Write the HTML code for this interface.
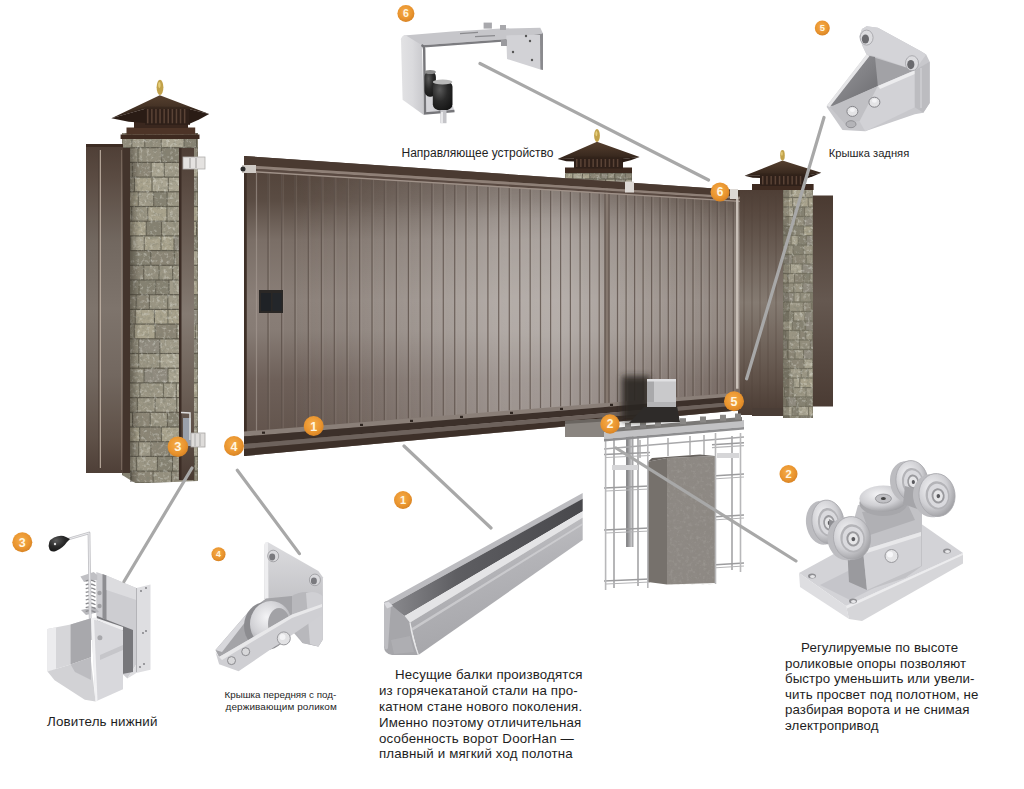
<!DOCTYPE html>
<html><head><meta charset="utf-8"><style>
html,body{margin:0;padding:0;background:#fff;}
#c{position:relative;width:1024px;height:789px;overflow:hidden;background:#fff;font-family:"Liberation Sans",sans-serif;}
#c svg{position:absolute;left:0;top:0;}
.t{position:absolute;white-space:nowrap;color:#1e1e1e;line-height:1.2;}
.p{position:absolute;white-space:nowrap;color:#1e1e1e;font-size:13.3px;line-height:15.8px;}
</style></head><body><div id="c">
<svg width="1024" height="789" viewBox="0 0 1024 789"><defs>
<linearGradient id="gv" x1="0" y1="160" x2="0" y2="455" gradientUnits="userSpaceOnUse">
 <stop offset="0" stop-color="#4e3f36"/>
 <stop offset="0.05" stop-color="#54453c"/>
 <stop offset="0.136" stop-color="#5a4c43"/>
 <stop offset="0.27" stop-color="#7a6e66"/>
 <stop offset="0.475" stop-color="#8a7f78"/>
 <stop offset="0.576" stop-color="#877c75"/>
 <stop offset="0.746" stop-color="#6e6059"/>
 <stop offset="1" stop-color="#5e5048"/>
</linearGradient>
<linearGradient id="gh" x1="244" y1="0" x2="740" y2="0" gradientUnits="userSpaceOnUse">
 <stop offset="0" stop-color="#ffffff" stop-opacity="0"/>
 <stop offset="0.093" stop-color="#ffffff" stop-opacity="0"/>
 <stop offset="0.214" stop-color="#ffffff" stop-opacity="0.08"/>
 <stop offset="0.345" stop-color="#ffffff" stop-opacity="0.2"/>
 <stop offset="0.516" stop-color="#ffffff" stop-opacity="0.35"/>
 <stop offset="0.637" stop-color="#ffffff" stop-opacity="0.38"/>
 <stop offset="0.819" stop-color="#ffffff" stop-opacity="0.22"/>
 <stop offset="0.919" stop-color="#ffffff" stop-opacity="0.13"/>
 <stop offset="1" stop-color="#ffffff" stop-opacity="0.08"/>
</linearGradient>
<linearGradient id="vmg" x1="0" y1="160" x2="0" y2="455" gradientUnits="userSpaceOnUse">
 <stop offset="0" stop-color="#fff" stop-opacity="0.55"/>
 <stop offset="0.2" stop-color="#fff" stop-opacity="1"/>
 <stop offset="1" stop-color="#fff" stop-opacity="1"/>
</linearGradient>
<mask id="vm" maskUnits="userSpaceOnUse" x="0" y="0" width="1024" height="789"><rect x="0" y="0" width="1024" height="789" fill="url(#vmg)"/></mask>
<linearGradient id="shl" x1="0" y1="0" x2="1" y2="0">
 <stop offset="0" stop-color="#2a241c" stop-opacity="0.45"/>
 <stop offset="1" stop-color="#2a241c" stop-opacity="0"/>
</linearGradient>
<linearGradient id="fv2" x1="0" y1="0" x2="0" y2="1">
 <stop offset="0" stop-color="#4e3e35"/>
 <stop offset="0.1" stop-color="#5a4b42"/>
 <stop offset="0.3" stop-color="#726860"/>
 <stop offset="0.5" stop-color="#7e746c"/>
 <stop offset="0.7" stop-color="#736860"/>
 <stop offset="0.9" stop-color="#5e5047"/>
 <stop offset="1" stop-color="#4e3f37"/>
</linearGradient>
<linearGradient id="fv3" x1="0" y1="0" x2="0" y2="1">
 <stop offset="0" stop-color="#4e3e35"/>
 <stop offset="0.12" stop-color="#5a4b42"/>
 <stop offset="0.5" stop-color="#857b72"/>
 <stop offset="0.85" stop-color="#5e5047"/>
 <stop offset="1" stop-color="#4a3b33"/>
</linearGradient>
<linearGradient id="fv4" x1="0" y1="0" x2="0" y2="1">
 <stop offset="0" stop-color="#4a3a31"/>
 <stop offset="0.5" stop-color="#655850"/>
 <stop offset="1" stop-color="#4a3b33"/>
</linearGradient>
<linearGradient id="fence" x1="0" y1="0" x2="1" y2="0">
 <stop offset="0" stop-color="#4e3e35"/>
 <stop offset="0.5" stop-color="#6a5a51"/>
 <stop offset="1" stop-color="#5a4a41"/>
</linearGradient>
<linearGradient id="fenceV" x1="0" y1="0" x2="0" y2="1">
 <stop offset="0" stop-color="#5a473d"/>
 <stop offset="0.5" stop-color="#6e5e55"/>
 <stop offset="1" stop-color="#4f3f36"/>
</linearGradient>
<linearGradient id="stone" x1="0" y1="0" x2="1" y2="0">
 <stop offset="0" stop-color="#6e6c5e"/>
 <stop offset="0.2" stop-color="#8f8d7d"/>
 <stop offset="0.7" stop-color="#9a9888"/>
 <stop offset="1" stop-color="#7a7868"/>
</linearGradient>
<filter id="nz" x="0" y="0" width="100%" height="100%">
 <feTurbulence type="fractalNoise" baseFrequency="0.3" numOctaves="3" seed="5" result="t"/>
 <feColorMatrix in="t" type="matrix" values="0 0 0 0 0.22  0 0 0 0 0.22  0 0 0 0 0.17  -2.2 0 0 0 1.2" result="d"/>
 <feComposite in="d" in2="SourceGraphic" operator="in" result="dd"/>
 <feColorMatrix in="t" type="matrix" values="0 0 0 0 0.85  0 0 0 0 0.86  0 0 0 0 0.8  0 2.0 0 0 -1.05" result="l"/>
 <feComposite in="l" in2="SourceGraphic" operator="in" result="ll"/>
 <feMerge><feMergeNode in="dd"/><feMergeNode in="ll"/></feMerge>
</filter>
<filter id="blur2" x="-50%" y="-50%" width="200%" height="200%"><feGaussianBlur stdDeviation="3"/></filter>
<radialGradient id="orng" cx="0.45" cy="0.4" r="0.6">
 <stop offset="0" stop-color="#f6ad4a"/>
 <stop offset="0.7" stop-color="#e9942e"/>
 <stop offset="1" stop-color="#d88425"/>
</radialGradient>
<linearGradient id="roof" x1="0" y1="0" x2="0" y2="1">
 <stop offset="0" stop-color="#56402f"/>
 <stop offset="1" stop-color="#33241b"/>
</linearGradient>

<linearGradient id="met" x1="0" y1="0" x2="1" y2="1">
 <stop offset="0" stop-color="#e8e8ea"/>
 <stop offset="0.5" stop-color="#c4c4c8"/>
 <stop offset="1" stop-color="#a6a6aa"/>
</linearGradient>
<linearGradient id="metV" x1="0" y1="0" x2="0" y2="1">
 <stop offset="0" stop-color="#dcdcdf"/>
 <stop offset="1" stop-color="#b0b0b4"/>
</linearGradient>
<linearGradient id="metH" x1="0" y1="0" x2="1" y2="0">
 <stop offset="0" stop-color="#e2e2e4"/>
 <stop offset="0.5" stop-color="#dadadd"/>
 <stop offset="1" stop-color="#c8c8cc"/>
</linearGradient>
<linearGradient id="metD" x1="0" y1="0" x2="1" y2="1">
 <stop offset="0" stop-color="#9a9a9e"/>
 <stop offset="1" stop-color="#6c6c70"/>
</linearGradient>
<linearGradient id="beamF" x1="0" y1="0" x2="0.35" y2="1">
 <stop offset="0" stop-color="#c9c9cc"/>
 <stop offset="0.5" stop-color="#b3b3b7"/>
 <stop offset="1" stop-color="#a4a4a8"/>
</linearGradient>
<linearGradient id="beamC" x1="0" y1="0" x2="1" y2="0">
 <stop offset="0" stop-color="#8a8a8e"/>
 <stop offset="0.35" stop-color="#5e5e62"/>
 <stop offset="1" stop-color="#48484c"/>
</linearGradient>
<radialGradient id="wheel" cx="0.4" cy="0.35" r="0.7">
 <stop offset="0" stop-color="#f4f4f6"/>
 <stop offset="0.6" stop-color="#cfcfd3"/>
 <stop offset="1" stop-color="#9a9a9e"/>
</radialGradient>
<radialGradient id="rub" cx="0.35" cy="0.3" r="0.8">
 <stop offset="0" stop-color="#5a5a5a"/>
 <stop offset="0.5" stop-color="#2a2a2a"/>
 <stop offset="1" stop-color="#141414"/>
</radialGradient>
</defs><rect x="813" y="195.5" width="20" height="211" fill="url(#fv4)"/>
<rect x="738" y="190" width="45" height="225" fill="url(#fv3)"/>
<line x1="744" y1="196" x2="744" y2="410" stroke="#4e4039" stroke-width="0.8" opacity="0.5"/>
<line x1="752" y1="196" x2="752" y2="410" stroke="#4e4039" stroke-width="0.8" opacity="0.5"/>
<line x1="760" y1="196" x2="760" y2="410" stroke="#4e4039" stroke-width="0.8" opacity="0.5"/>
<line x1="768" y1="196" x2="768" y2="410" stroke="#4e4039" stroke-width="0.8" opacity="0.5"/>
<line x1="776" y1="196" x2="776" y2="410" stroke="#4e4039" stroke-width="0.8" opacity="0.5"/>
<rect x="752" y="408" width="31" height="8" fill="#4a3d36"/>
<rect x="783" y="188" width="30" height="230" fill="#747060"/>
<rect x="783.5" y="188.6" width="7.9" height="8.3" fill="#9a9583"/>
<rect x="792.4" y="188.6" width="12.3" height="8.3" fill="#a8a28c"/>
<rect x="805.8" y="188.6" width="6.7" height="8.3" fill="#a09b89"/>
<rect x="783.5" y="198.1" width="8.6" height="8.3" fill="#a8a28c"/>
<rect x="793.1" y="198.1" width="7.1" height="8.3" fill="#aaa592"/>
<rect x="801.2" y="198.1" width="6.5" height="8.3" fill="#a8a28c"/>
<rect x="808.7" y="198.1" width="3.8" height="8.3" fill="#a8a28c"/>
<rect x="783.5" y="207.6" width="9.5" height="8.3" fill="#aaa592"/>
<rect x="794.0" y="207.6" width="10.1" height="8.3" fill="#858171"/>
<rect x="805.1" y="207.6" width="7.4" height="8.3" fill="#a09b89"/>
<rect x="783.5" y="217.1" width="11.7" height="8.3" fill="#948f7e"/>
<rect x="796.2" y="217.1" width="7.4" height="8.3" fill="#948f7e"/>
<rect x="804.6" y="217.1" width="7.9" height="8.3" fill="#908b7f"/>
<rect x="783.5" y="226.6" width="7.9" height="8.3" fill="#858171"/>
<rect x="792.4" y="226.6" width="10.7" height="8.3" fill="#858171"/>
<rect x="804.1" y="226.6" width="8.2" height="8.3" fill="#a8a28c"/>
<rect x="783.5" y="236.1" width="7.1" height="8.3" fill="#948f7e"/>
<rect x="791.6" y="236.1" width="6.1" height="8.3" fill="#aaa592"/>
<rect x="798.7" y="236.1" width="7.1" height="8.3" fill="#858171"/>
<rect x="806.8" y="236.1" width="5.7" height="8.3" fill="#908b7f"/>
<rect x="783.5" y="245.6" width="9.1" height="8.3" fill="#9a9583"/>
<rect x="793.6" y="245.6" width="9.3" height="8.3" fill="#858171"/>
<rect x="803.9" y="245.6" width="8.6" height="8.3" fill="#9a9583"/>
<rect x="783.5" y="255.1" width="8.3" height="8.3" fill="#908b7f"/>
<rect x="792.8" y="255.1" width="12.9" height="8.3" fill="#8b8575"/>
<rect x="806.8" y="255.1" width="5.7" height="8.3" fill="#9a9583"/>
<rect x="783.5" y="264.6" width="6.4" height="8.3" fill="#a09b89"/>
<rect x="790.9" y="264.6" width="10.7" height="8.3" fill="#aaa592"/>
<rect x="802.7" y="264.6" width="9.8" height="8.3" fill="#908b7f"/>
<rect x="783.5" y="274.1" width="3.8" height="8.3" fill="#a8a28c"/>
<rect x="788.3" y="274.1" width="5.7" height="8.3" fill="#a09b89"/>
<rect x="795.0" y="274.1" width="8.3" height="8.3" fill="#8b8575"/>
<rect x="804.3" y="274.1" width="5.2" height="8.3" fill="#858171"/>
<rect x="810.5" y="274.1" width="2.0" height="8.3" fill="#a09b89"/>
<rect x="783.5" y="283.6" width="9.7" height="8.3" fill="#948f7e"/>
<rect x="794.2" y="283.6" width="8.0" height="8.3" fill="#9a9583"/>
<rect x="803.2" y="283.6" width="9.3" height="8.3" fill="#908b7f"/>
<rect x="783.5" y="293.1" width="10.0" height="8.3" fill="#908b7f"/>
<rect x="794.5" y="293.1" width="5.1" height="8.3" fill="#a09b89"/>
<rect x="800.5" y="293.1" width="9.8" height="8.3" fill="#948f7e"/>
<rect x="811.3" y="293.1" width="1.2" height="8.3" fill="#858171"/>
<rect x="783.5" y="302.6" width="5.4" height="8.3" fill="#948f7e"/>
<rect x="789.9" y="302.6" width="12.8" height="8.3" fill="#9a9583"/>
<rect x="803.7" y="302.6" width="7.5" height="8.3" fill="#8b8575"/>
<rect x="812.2" y="302.6" width="0.3" height="8.3" fill="#858171"/>
<rect x="783.5" y="312.1" width="9.7" height="8.3" fill="#858171"/>
<rect x="794.2" y="312.1" width="10.2" height="8.3" fill="#a09b89"/>
<rect x="805.3" y="312.1" width="7.2" height="8.3" fill="#908b7f"/>
<rect x="783.5" y="321.6" width="8.2" height="8.3" fill="#aaa592"/>
<rect x="792.7" y="321.6" width="12.5" height="8.3" fill="#858171"/>
<rect x="806.2" y="321.6" width="6.3" height="8.3" fill="#908b7f"/>
<rect x="783.5" y="331.1" width="1.8" height="8.3" fill="#858171"/>
<rect x="786.3" y="331.1" width="12.9" height="8.3" fill="#9a9583"/>
<rect x="800.2" y="331.1" width="5.2" height="8.3" fill="#8b8575"/>
<rect x="806.4" y="331.1" width="5.5" height="8.3" fill="#9a9583"/>
<rect x="783.5" y="340.6" width="3.7" height="8.3" fill="#908b7f"/>
<rect x="788.2" y="340.6" width="10.9" height="8.3" fill="#948f7e"/>
<rect x="800.1" y="340.6" width="9.7" height="8.3" fill="#948f7e"/>
<rect x="810.9" y="340.6" width="1.6" height="8.3" fill="#908b7f"/>
<rect x="783.5" y="350.1" width="3.6" height="8.3" fill="#9a9583"/>
<rect x="788.1" y="350.1" width="6.4" height="8.3" fill="#8b8575"/>
<rect x="795.5" y="350.1" width="7.5" height="8.3" fill="#9a9583"/>
<rect x="804.0" y="350.1" width="8.5" height="8.3" fill="#908b7f"/>
<rect x="783.5" y="359.6" width="6.2" height="8.3" fill="#948f7e"/>
<rect x="790.7" y="359.6" width="12.8" height="8.3" fill="#8b8575"/>
<rect x="804.5" y="359.6" width="7.5" height="8.3" fill="#aaa592"/>
<rect x="783.5" y="369.1" width="6.0" height="8.3" fill="#858171"/>
<rect x="790.5" y="369.1" width="10.2" height="8.3" fill="#a09b89"/>
<rect x="801.7" y="369.1" width="5.8" height="8.3" fill="#9a9583"/>
<rect x="808.5" y="369.1" width="4.0" height="8.3" fill="#aaa592"/>
<rect x="783.5" y="378.6" width="9.2" height="8.3" fill="#8b8575"/>
<rect x="793.7" y="378.6" width="5.6" height="8.3" fill="#aaa592"/>
<rect x="800.4" y="378.6" width="12.1" height="8.3" fill="#a8a28c"/>
<rect x="783.5" y="388.1" width="0.5" height="8.3" fill="#aaa592"/>
<rect x="785.0" y="388.1" width="7.5" height="8.3" fill="#8b8575"/>
<rect x="793.6" y="388.1" width="11.9" height="8.3" fill="#9a9583"/>
<rect x="806.5" y="388.1" width="6.0" height="8.3" fill="#a09b89"/>
<rect x="783.5" y="397.6" width="2.9" height="8.3" fill="#8b8575"/>
<rect x="787.4" y="397.6" width="8.4" height="8.3" fill="#908b7f"/>
<rect x="796.8" y="397.6" width="8.7" height="8.3" fill="#858171"/>
<rect x="806.5" y="397.6" width="6.0" height="8.3" fill="#858171"/>
<rect x="783.5" y="407.1" width="8.1" height="8.3" fill="#aaa592"/>
<rect x="792.6" y="407.1" width="5.0" height="8.3" fill="#858171"/>
<rect x="798.6" y="407.1" width="9.5" height="8.3" fill="#aaa592"/>
<rect x="809.1" y="407.1" width="3.4" height="8.3" fill="#a8a28c"/>
<rect x="783.5" y="416.6" width="5.3" height="0.8" fill="#908b7f"/>
<rect x="789.8" y="416.6" width="9.4" height="0.8" fill="#aaa592"/>
<rect x="800.1" y="416.6" width="11.9" height="0.8" fill="#908b7f"/>
<rect x="783" y="188" width="30" height="230" fill="#000" filter="url(#nz)" opacity="0.6"/>
<rect x="783" y="188" width="6" height="230" fill="#3e3a30" opacity="0.25"/>
<rect x="752" y="184" width="61.60000000000002" height="6" fill="#3e2a20"/>
<rect x="760" y="174.5" width="46" height="11.5" fill="#2f2019"/>
<rect x="762.0" y="176.0" width="1.5" height="8.5" fill="#5a4336"/>
<rect x="766.2" y="176.0" width="1.5" height="8.5" fill="#5a4336"/>
<rect x="770.4" y="176.0" width="1.5" height="8.5" fill="#5a4336"/>
<rect x="774.6" y="176.0" width="1.5" height="8.5" fill="#5a4336"/>
<rect x="778.8" y="176.0" width="1.5" height="8.5" fill="#5a4336"/>
<rect x="783.0" y="176.0" width="1.5" height="8.5" fill="#5a4336"/>
<rect x="787.2" y="176.0" width="1.5" height="8.5" fill="#5a4336"/>
<rect x="791.4" y="176.0" width="1.5" height="8.5" fill="#5a4336"/>
<rect x="795.6" y="176.0" width="1.5" height="8.5" fill="#5a4336"/>
<rect x="799.8" y="176.0" width="1.5" height="8.5" fill="#5a4336"/>
<polygon points="744.4,175.7 761,175.5 761,178 752.7,177.8" fill="#2a1c15"/>
<polygon points="821.3,172.7 805,176.0 805,179 813.1,176.3" fill="#2a1c15"/>
<polygon points="744.4,175.7 782.5,160.5 821.3,172.7 805,176.0 761,175.5" fill="url(#roof)"/>
<polygon points="744.4,175.7 761,173.5 805,174.0 821.3,172.7 805,176.0 761,175.5" fill="#2e1f17" opacity="0.5"/>
<ellipse cx="782.5" cy="155.2" rx="2.3" ry="5.2" fill="#c2a24a"/>
<ellipse cx="781.9" cy="153.7" rx="0.8" ry="2.1" fill="#e6cf7c"/>
<rect x="565" y="167.5" width="67" height="6.5" fill="#3e2a20"/>
<rect x="574" y="157.5" width="49" height="11.0" fill="#2f2019"/>
<rect x="576.0" y="159.0" width="1.5" height="8.0" fill="#5a4336"/>
<rect x="580.1" y="159.0" width="1.5" height="8.0" fill="#5a4336"/>
<rect x="584.2" y="159.0" width="1.5" height="8.0" fill="#5a4336"/>
<rect x="588.3" y="159.0" width="1.5" height="8.0" fill="#5a4336"/>
<rect x="592.4" y="159.0" width="1.5" height="8.0" fill="#5a4336"/>
<rect x="596.5" y="159.0" width="1.5" height="8.0" fill="#5a4336"/>
<rect x="600.5" y="159.0" width="1.5" height="8.0" fill="#5a4336"/>
<rect x="604.6" y="159.0" width="1.5" height="8.0" fill="#5a4336"/>
<rect x="608.7" y="159.0" width="1.5" height="8.0" fill="#5a4336"/>
<rect x="612.8" y="159.0" width="1.5" height="8.0" fill="#5a4336"/>
<rect x="616.9" y="159.0" width="1.5" height="8.0" fill="#5a4336"/>
<polygon points="557.6,159 575,158.5 575,161.5 566.3,161.2" fill="#2a1c15"/>
<polygon points="639.6,157 622,159.0 622,162.5 630.8,160.2" fill="#2a1c15"/>
<polygon points="557.6,159 597,141.7 639.6,157 622,159.0 575,158.5" fill="url(#roof)"/>
<polygon points="557.6,159 575,156.5 622,157.0 639.6,157 622,159.0 575,158.5" fill="#2e1f17" opacity="0.5"/>
<ellipse cx="597" cy="135.5" rx="2.9" ry="6.5" fill="#c2a24a"/>
<ellipse cx="596.4" cy="133.6" rx="1.0" ry="2.6" fill="#e6cf7c"/>
<rect x="565" y="173" width="67" height="13" fill="#5e5a4d"/>
<rect x="565.5" y="173.6" width="6.8" height="4.8" fill="#a8a28c"/>
<rect x="573.3" y="173.6" width="8.6" height="4.8" fill="#aaa592"/>
<rect x="582.9" y="173.6" width="6.5" height="4.8" fill="#a8a28c"/>
<rect x="590.4" y="173.6" width="10.0" height="4.8" fill="#8b8575"/>
<rect x="601.4" y="173.6" width="5.8" height="4.8" fill="#908b7f"/>
<rect x="608.1" y="173.6" width="6.1" height="4.8" fill="#948f7e"/>
<rect x="615.3" y="173.6" width="9.8" height="4.8" fill="#858171"/>
<rect x="626.0" y="173.6" width="5.5" height="4.8" fill="#8b8575"/>
<rect x="565.5" y="179.6" width="7.9" height="4.8" fill="#a09b89"/>
<rect x="574.4" y="179.6" width="5.5" height="4.8" fill="#aaa592"/>
<rect x="580.9" y="179.6" width="12.0" height="4.8" fill="#948f7e"/>
<rect x="593.9" y="179.6" width="11.2" height="4.8" fill="#9a9583"/>
<rect x="606.2" y="179.6" width="8.5" height="4.8" fill="#aaa592"/>
<rect x="615.7" y="179.6" width="9.2" height="4.8" fill="#908b7f"/>
<rect x="625.8" y="179.6" width="5.7" height="4.8" fill="#a09b89"/>
<rect x="565.5" y="185.6" width="4.5" height="-0.2" fill="#a09b89"/>
<rect x="571.0" y="185.6" width="10.7" height="-0.2" fill="#9a9583"/>
<rect x="582.6" y="185.6" width="11.1" height="-0.2" fill="#908b7f"/>
<rect x="594.7" y="185.6" width="5.2" height="-0.2" fill="#a09b89"/>
<rect x="600.9" y="185.6" width="8.2" height="-0.2" fill="#908b7f"/>
<rect x="610.1" y="185.6" width="8.1" height="-0.2" fill="#948f7e"/>
<rect x="619.2" y="185.6" width="11.8" height="-0.2" fill="#948f7e"/>
<rect x="565" y="173" width="67" height="13" fill="#000" filter="url(#nz)" opacity="0.6"/>
<polygon points="244,156.0 740,190.224 740,410.368 244,456.0" fill="url(#gv)"/>
<polygon points="244,156.0 740,190.224 740,410.368 244,456.0" fill="url(#gh)" mask="url(#vm)"/>
<line x1="268.0" y1="173.4" x2="268.0" y2="429.6" stroke="#5e524b" stroke-width="1.2" opacity="0.8"/>
<line x1="269.6" y1="173.4" x2="269.6" y2="429.6" stroke="#c0b5ad" stroke-width="0.9" opacity="0.18"/>
<line x1="281.6" y1="174.3" x2="281.6" y2="428.5" stroke="#5e524b" stroke-width="1.2" opacity="0.8"/>
<line x1="283.2" y1="174.3" x2="283.2" y2="428.5" stroke="#c0b5ad" stroke-width="0.9" opacity="0.18"/>
<line x1="295.0" y1="175.1" x2="295.0" y2="427.5" stroke="#5e524b" stroke-width="1.2" opacity="0.8"/>
<line x1="296.6" y1="175.1" x2="296.6" y2="427.5" stroke="#c0b5ad" stroke-width="0.9" opacity="0.18"/>
<line x1="308.3" y1="175.9" x2="308.3" y2="426.4" stroke="#5e524b" stroke-width="1.2" opacity="0.8"/>
<line x1="309.9" y1="175.9" x2="309.9" y2="426.4" stroke="#c0b5ad" stroke-width="0.9" opacity="0.18"/>
<line x1="321.4" y1="176.7" x2="321.4" y2="425.4" stroke="#5e524b" stroke-width="1.2" opacity="0.8"/>
<line x1="323.0" y1="176.7" x2="323.0" y2="425.4" stroke="#c0b5ad" stroke-width="0.9" opacity="0.18"/>
<line x1="334.3" y1="177.5" x2="334.3" y2="424.4" stroke="#5e524b" stroke-width="1.2" opacity="0.8"/>
<line x1="335.9" y1="177.5" x2="335.9" y2="424.4" stroke="#c0b5ad" stroke-width="0.9" opacity="0.18"/>
<line x1="347.0" y1="178.2" x2="347.0" y2="423.4" stroke="#5e524b" stroke-width="1.2" opacity="0.8"/>
<line x1="348.6" y1="178.2" x2="348.6" y2="423.4" stroke="#c0b5ad" stroke-width="0.9" opacity="0.18"/>
<line x1="359.6" y1="179.0" x2="359.6" y2="422.4" stroke="#5e524b" stroke-width="1.2" opacity="0.8"/>
<line x1="361.2" y1="179.0" x2="361.2" y2="422.4" stroke="#c0b5ad" stroke-width="0.9" opacity="0.18"/>
<line x1="372.0" y1="179.7" x2="372.0" y2="421.4" stroke="#5e524b" stroke-width="1.2" opacity="0.8"/>
<line x1="373.6" y1="179.7" x2="373.6" y2="421.4" stroke="#c0b5ad" stroke-width="0.9" opacity="0.18"/>
<line x1="384.3" y1="180.5" x2="384.3" y2="420.4" stroke="#5e524b" stroke-width="1.2" opacity="0.8"/>
<line x1="385.9" y1="180.5" x2="385.9" y2="420.4" stroke="#c0b5ad" stroke-width="0.9" opacity="0.18"/>
<line x1="396.4" y1="181.2" x2="396.4" y2="419.5" stroke="#5e524b" stroke-width="1.2" opacity="0.8"/>
<line x1="398.0" y1="181.2" x2="398.0" y2="419.5" stroke="#c0b5ad" stroke-width="0.9" opacity="0.18"/>
<line x1="408.4" y1="181.9" x2="408.4" y2="418.5" stroke="#5e524b" stroke-width="1.2" opacity="0.8"/>
<line x1="410.0" y1="181.9" x2="410.0" y2="418.5" stroke="#c0b5ad" stroke-width="0.9" opacity="0.18"/>
<line x1="420.2" y1="182.6" x2="420.2" y2="417.6" stroke="#5e524b" stroke-width="1.2" opacity="0.8"/>
<line x1="421.8" y1="182.6" x2="421.8" y2="417.6" stroke="#c0b5ad" stroke-width="0.9" opacity="0.18"/>
<line x1="431.8" y1="183.3" x2="431.8" y2="416.7" stroke="#5e524b" stroke-width="1.2" opacity="0.8"/>
<line x1="433.4" y1="183.3" x2="433.4" y2="416.7" stroke="#c0b5ad" stroke-width="0.9" opacity="0.18"/>
<line x1="443.3" y1="184.0" x2="443.3" y2="415.8" stroke="#5e524b" stroke-width="1.2" opacity="0.8"/>
<line x1="444.9" y1="184.0" x2="444.9" y2="415.8" stroke="#c0b5ad" stroke-width="0.9" opacity="0.18"/>
<line x1="454.7" y1="184.7" x2="454.7" y2="414.9" stroke="#5e524b" stroke-width="1.2" opacity="0.8"/>
<line x1="456.3" y1="184.7" x2="456.3" y2="414.9" stroke="#c0b5ad" stroke-width="0.9" opacity="0.18"/>
<line x1="465.9" y1="185.4" x2="465.9" y2="414.0" stroke="#5e524b" stroke-width="1.2" opacity="0.8"/>
<line x1="467.5" y1="185.4" x2="467.5" y2="414.0" stroke="#c0b5ad" stroke-width="0.9" opacity="0.18"/>
<line x1="477.0" y1="186.1" x2="477.0" y2="413.1" stroke="#5e524b" stroke-width="1.2" opacity="0.8"/>
<line x1="478.6" y1="186.1" x2="478.6" y2="413.1" stroke="#c0b5ad" stroke-width="0.9" opacity="0.18"/>
<line x1="487.9" y1="186.7" x2="487.9" y2="412.3" stroke="#5e524b" stroke-width="1.2" opacity="0.8"/>
<line x1="489.5" y1="186.7" x2="489.5" y2="412.3" stroke="#c0b5ad" stroke-width="0.9" opacity="0.18"/>
<line x1="498.7" y1="187.4" x2="498.7" y2="411.4" stroke="#5e524b" stroke-width="1.2" opacity="0.8"/>
<line x1="500.3" y1="187.4" x2="500.3" y2="411.4" stroke="#c0b5ad" stroke-width="0.9" opacity="0.18"/>
<line x1="509.3" y1="188.0" x2="509.3" y2="410.6" stroke="#5e524b" stroke-width="1.2" opacity="0.8"/>
<line x1="510.9" y1="188.0" x2="510.9" y2="410.6" stroke="#c0b5ad" stroke-width="0.9" opacity="0.18"/>
<line x1="519.8" y1="188.7" x2="519.8" y2="409.7" stroke="#5e524b" stroke-width="1.2" opacity="0.8"/>
<line x1="521.4" y1="188.7" x2="521.4" y2="409.7" stroke="#c0b5ad" stroke-width="0.9" opacity="0.18"/>
<line x1="530.2" y1="189.3" x2="530.2" y2="408.9" stroke="#5e524b" stroke-width="1.2" opacity="0.8"/>
<line x1="531.8" y1="189.3" x2="531.8" y2="408.9" stroke="#c0b5ad" stroke-width="0.9" opacity="0.18"/>
<line x1="540.5" y1="189.9" x2="540.5" y2="408.1" stroke="#5e524b" stroke-width="1.2" opacity="0.8"/>
<line x1="542.1" y1="189.9" x2="542.1" y2="408.1" stroke="#c0b5ad" stroke-width="0.9" opacity="0.18"/>
<line x1="550.6" y1="190.5" x2="550.6" y2="407.3" stroke="#5e524b" stroke-width="1.2" opacity="0.8"/>
<line x1="552.2" y1="190.5" x2="552.2" y2="407.3" stroke="#c0b5ad" stroke-width="0.9" opacity="0.18"/>
<line x1="560.6" y1="191.1" x2="560.6" y2="406.5" stroke="#5e524b" stroke-width="1.2" opacity="0.8"/>
<line x1="562.2" y1="191.1" x2="562.2" y2="406.5" stroke="#c0b5ad" stroke-width="0.9" opacity="0.18"/>
<line x1="570.4" y1="191.7" x2="570.4" y2="405.8" stroke="#5e524b" stroke-width="1.2" opacity="0.8"/>
<line x1="572.0" y1="191.7" x2="572.0" y2="405.8" stroke="#c0b5ad" stroke-width="0.9" opacity="0.18"/>
<line x1="580.1" y1="192.3" x2="580.1" y2="405.0" stroke="#5e524b" stroke-width="1.2" opacity="0.8"/>
<line x1="581.7" y1="192.3" x2="581.7" y2="405.0" stroke="#c0b5ad" stroke-width="0.9" opacity="0.18"/>
<line x1="589.7" y1="192.9" x2="589.7" y2="404.2" stroke="#5e524b" stroke-width="1.2" opacity="0.8"/>
<line x1="591.3" y1="192.9" x2="591.3" y2="404.2" stroke="#c0b5ad" stroke-width="0.9" opacity="0.18"/>
<line x1="599.2" y1="193.5" x2="599.2" y2="403.5" stroke="#5e524b" stroke-width="1.2" opacity="0.8"/>
<line x1="600.8" y1="193.5" x2="600.8" y2="403.5" stroke="#c0b5ad" stroke-width="0.9" opacity="0.18"/>
<line x1="617.5" y1="194.6" x2="617.5" y2="402.0" stroke="#5e524b" stroke-width="1.2" opacity="0.8"/>
<line x1="619.1" y1="194.6" x2="619.1" y2="402.0" stroke="#c0b5ad" stroke-width="0.9" opacity="0.18"/>
<line x1="626.1" y1="195.1" x2="626.1" y2="401.4" stroke="#5e524b" stroke-width="1.2" opacity="0.8"/>
<line x1="627.7" y1="195.1" x2="627.7" y2="401.4" stroke="#c0b5ad" stroke-width="0.9" opacity="0.18"/>
<line x1="634.6" y1="195.6" x2="634.6" y2="400.7" stroke="#5e524b" stroke-width="1.2" opacity="0.8"/>
<line x1="636.2" y1="195.6" x2="636.2" y2="400.7" stroke="#c0b5ad" stroke-width="0.9" opacity="0.18"/>
<line x1="643.1" y1="196.1" x2="643.1" y2="400.0" stroke="#5e524b" stroke-width="1.2" opacity="0.8"/>
<line x1="644.7" y1="196.1" x2="644.7" y2="400.0" stroke="#c0b5ad" stroke-width="0.9" opacity="0.18"/>
<line x1="651.6" y1="196.6" x2="651.6" y2="399.4" stroke="#5e524b" stroke-width="1.2" opacity="0.8"/>
<line x1="653.2" y1="196.6" x2="653.2" y2="399.4" stroke="#c0b5ad" stroke-width="0.9" opacity="0.18"/>
<line x1="660.0" y1="197.1" x2="660.0" y2="398.7" stroke="#5e524b" stroke-width="1.2" opacity="0.8"/>
<line x1="661.6" y1="197.1" x2="661.6" y2="398.7" stroke="#c0b5ad" stroke-width="0.9" opacity="0.18"/>
<line x1="668.3" y1="197.6" x2="668.3" y2="398.0" stroke="#5e524b" stroke-width="1.2" opacity="0.8"/>
<line x1="669.9" y1="197.6" x2="669.9" y2="398.0" stroke="#c0b5ad" stroke-width="0.9" opacity="0.18"/>
<line x1="676.6" y1="198.1" x2="676.6" y2="397.4" stroke="#5e524b" stroke-width="1.2" opacity="0.8"/>
<line x1="678.2" y1="198.1" x2="678.2" y2="397.4" stroke="#c0b5ad" stroke-width="0.9" opacity="0.18"/>
<line x1="684.8" y1="198.6" x2="684.8" y2="396.7" stroke="#5e524b" stroke-width="1.2" opacity="0.8"/>
<line x1="686.4" y1="198.6" x2="686.4" y2="396.7" stroke="#c0b5ad" stroke-width="0.9" opacity="0.18"/>
<line x1="693.0" y1="199.1" x2="693.0" y2="396.1" stroke="#5e524b" stroke-width="1.2" opacity="0.8"/>
<line x1="694.6" y1="199.1" x2="694.6" y2="396.1" stroke="#c0b5ad" stroke-width="0.9" opacity="0.18"/>
<line x1="701.2" y1="199.6" x2="701.2" y2="395.5" stroke="#5e524b" stroke-width="1.2" opacity="0.8"/>
<line x1="702.8" y1="199.6" x2="702.8" y2="395.5" stroke="#c0b5ad" stroke-width="0.9" opacity="0.18"/>
<line x1="709.3" y1="200.1" x2="709.3" y2="394.8" stroke="#5e524b" stroke-width="1.2" opacity="0.8"/>
<line x1="710.9" y1="200.1" x2="710.9" y2="394.8" stroke="#c0b5ad" stroke-width="0.9" opacity="0.18"/>
<line x1="717.3" y1="200.6" x2="717.3" y2="394.2" stroke="#5e524b" stroke-width="1.2" opacity="0.8"/>
<line x1="718.9" y1="200.6" x2="718.9" y2="394.2" stroke="#c0b5ad" stroke-width="0.9" opacity="0.18"/>
<line x1="725.3" y1="201.1" x2="725.3" y2="393.5" stroke="#5e524b" stroke-width="1.2" opacity="0.8"/>
<line x1="726.9" y1="201.1" x2="726.9" y2="393.5" stroke="#c0b5ad" stroke-width="0.9" opacity="0.18"/>
<line x1="733.3" y1="201.6" x2="733.3" y2="392.9" stroke="#5e524b" stroke-width="1.2" opacity="0.8"/>
<line x1="734.9" y1="201.6" x2="734.9" y2="392.9" stroke="#c0b5ad" stroke-width="0.9" opacity="0.18"/>
<polygon points="244,156.0 246.8,156.207 246.8,455.724 244,456.0" fill="#3e3028"/>
<line x1="256.5" y1="166.828" x2="256.5" y2="434.896" stroke="#a89d95" stroke-width="1.2" opacity="0.6"/>
<rect x="604.5" y="180.909" width="5" height="241.87900000000002" fill="#85786f"/>
<line x1="605" y1="180.909" x2="605" y2="422.788" stroke="#5b4f48" stroke-width="1"/>
<line x1="609" y1="181.185" x2="609" y2="422.42" stroke="#5b4f48" stroke-width="1"/>
<polygon points="244,156.00 740,190.22 740,196.83 244,165.00" fill="#4a3a31" />
<polygon points="244,165.00 740,196.83 740,199.03 244,168.00" fill="#8f8077" />
<polygon points="244,168.00 740,199.03 740,200.86 244,170.50" fill="#5a4a42" />
<polygon points="244,170.50 740,200.86 740,201.97 244,172.00" fill="#a09289" />
<polygon points="244,431.50 740,392.39 740,396.06 244,436.50" fill="#8a7f78"/>
<polygon points="244,436.50 740,396.06 740,401.56 244,444.00" fill="#3c302a"/>
<polygon points="244,444.00 740,401.56 740,405.23 244,449.00" fill="#6d625c"/>
<polygon points="244,449.00 740,405.23 740,410.37 244,456.00" fill="#3d3029"/>
<rect x="262" y="431.6" width="3" height="2.2" fill="#2e2520"/>
<rect x="310" y="427.7" width="3" height="2.2" fill="#2e2520"/>
<rect x="360" y="423.8" width="3" height="2.2" fill="#2e2520"/>
<rect x="410" y="419.8" width="3" height="2.2" fill="#2e2520"/>
<rect x="460" y="415.8" width="3" height="2.2" fill="#2e2520"/>
<rect x="510" y="411.8" width="3" height="2.2" fill="#2e2520"/>
<rect x="560" y="407.8" width="3" height="2.2" fill="#2e2520"/>
<rect x="610" y="403.8" width="3" height="2.2" fill="#2e2520"/>
<rect x="660" y="399.9" width="3" height="2.2" fill="#2e2520"/>
<rect x="736" y="197.948" width="2.5" height="190.78799999999998" fill="#c9c0b8"/>
<rect x="259" y="290" width="24" height="23" fill="#2a2725"/>
<rect x="261" y="293" width="10" height="18" fill="#1f2226"/>
<rect x="272.5" y="293" width="9" height="18" fill="#23262a"/>
<rect x="242" y="165" width="14" height="8" fill="#cfcac5"/><circle cx="243" cy="169" r="2.5" fill="#2b2b2b"/>
<rect x="625" y="181.5" width="9" height="11" fill="#dcd8d4"/>
<rect x="730" y="189" width="8" height="10" fill="#dcd8d4"/>
<rect x="122" y="133" width="76" height="350" fill="#5e5a4d"/>
<rect x="122.5" y="133.6" width="8.9" height="13.5" fill="#948f7e"/>
<rect x="132.4" y="133.6" width="11.9" height="13.5" fill="#a09b89"/>
<rect x="145.3" y="133.6" width="15.4" height="13.5" fill="#948f7e"/>
<rect x="161.7" y="133.6" width="21.9" height="13.5" fill="#aaa592"/>
<rect x="184.6" y="133.6" width="11.4" height="13.5" fill="#858171"/>
<rect x="197.0" y="133.6" width="0.5" height="13.5" fill="#aaa592"/>
<rect x="122.5" y="148.3" width="15.0" height="13.5" fill="#a09b89"/>
<rect x="138.5" y="148.3" width="22.4" height="13.5" fill="#948f7e"/>
<rect x="161.9" y="148.3" width="17.9" height="13.5" fill="#858171"/>
<rect x="180.8" y="148.3" width="11.6" height="13.5" fill="#aaa592"/>
<rect x="193.4" y="148.3" width="4.1" height="13.5" fill="#8b8575"/>
<rect x="122.5" y="163.0" width="9.3" height="13.5" fill="#a09b89"/>
<rect x="132.8" y="163.0" width="17.9" height="13.5" fill="#8b8575"/>
<rect x="151.6" y="163.0" width="12.2" height="13.5" fill="#aaa592"/>
<rect x="164.8" y="163.0" width="15.5" height="13.5" fill="#a09b89"/>
<rect x="181.3" y="163.0" width="16.2" height="13.5" fill="#aaa592"/>
<rect x="122.5" y="177.7" width="11.4" height="13.5" fill="#9a9583"/>
<rect x="134.9" y="177.7" width="16.6" height="13.5" fill="#a8a28c"/>
<rect x="152.5" y="177.7" width="15.3" height="13.5" fill="#aaa592"/>
<rect x="168.8" y="177.7" width="20.5" height="13.5" fill="#aaa592"/>
<rect x="190.4" y="177.7" width="7.1" height="13.5" fill="#908b7f"/>
<rect x="122.5" y="192.4" width="15.2" height="13.5" fill="#a8a28c"/>
<rect x="138.7" y="192.4" width="14.5" height="13.5" fill="#a09b89"/>
<rect x="154.2" y="192.4" width="12.4" height="13.5" fill="#858171"/>
<rect x="167.6" y="192.4" width="13.0" height="13.5" fill="#9a9583"/>
<rect x="181.6" y="192.4" width="12.8" height="13.5" fill="#a8a28c"/>
<rect x="195.4" y="192.4" width="2.1" height="13.5" fill="#a09b89"/>
<rect x="122.5" y="207.1" width="8.7" height="13.5" fill="#9a9583"/>
<rect x="132.2" y="207.1" width="15.1" height="13.5" fill="#9a9583"/>
<rect x="148.3" y="207.1" width="18.1" height="13.5" fill="#a8a28c"/>
<rect x="167.4" y="207.1" width="11.8" height="13.5" fill="#a09b89"/>
<rect x="180.2" y="207.1" width="17.3" height="13.5" fill="#a8a28c"/>
<rect x="122.5" y="221.8" width="3.4" height="13.5" fill="#908b7f"/>
<rect x="126.9" y="221.8" width="18.8" height="13.5" fill="#a8a28c"/>
<rect x="146.7" y="221.8" width="14.4" height="13.5" fill="#858171"/>
<rect x="162.1" y="221.8" width="21.6" height="13.5" fill="#9a9583"/>
<rect x="184.7" y="221.8" width="11.3" height="13.5" fill="#a8a28c"/>
<rect x="197.0" y="221.8" width="0.5" height="13.5" fill="#a09b89"/>
<rect x="122.5" y="236.5" width="7.7" height="13.5" fill="#908b7f"/>
<rect x="131.2" y="236.5" width="12.6" height="13.5" fill="#aaa592"/>
<rect x="144.7" y="236.5" width="15.8" height="13.5" fill="#a8a28c"/>
<rect x="161.5" y="236.5" width="12.0" height="13.5" fill="#a8a28c"/>
<rect x="174.5" y="236.5" width="15.8" height="13.5" fill="#908b7f"/>
<rect x="191.3" y="236.5" width="6.2" height="13.5" fill="#858171"/>
<rect x="122.5" y="251.2" width="4.0" height="13.5" fill="#858171"/>
<rect x="127.5" y="251.2" width="22.8" height="13.5" fill="#858171"/>
<rect x="151.3" y="251.2" width="22.5" height="13.5" fill="#8b8575"/>
<rect x="174.8" y="251.2" width="12.0" height="13.5" fill="#8b8575"/>
<rect x="187.8" y="251.2" width="9.7" height="13.5" fill="#aaa592"/>
<rect x="122.5" y="265.9" width="20.8" height="13.5" fill="#8b8575"/>
<rect x="144.3" y="265.9" width="14.2" height="13.5" fill="#948f7e"/>
<rect x="159.5" y="265.9" width="12.7" height="13.5" fill="#9a9583"/>
<rect x="173.2" y="265.9" width="18.3" height="13.5" fill="#9a9583"/>
<rect x="192.5" y="265.9" width="5.0" height="13.5" fill="#948f7e"/>
<rect x="122.5" y="280.6" width="16.0" height="13.5" fill="#858171"/>
<rect x="139.5" y="280.6" width="15.8" height="13.5" fill="#858171"/>
<rect x="156.2" y="280.6" width="12.2" height="13.5" fill="#858171"/>
<rect x="169.5" y="280.6" width="11.7" height="13.5" fill="#a09b89"/>
<rect x="182.2" y="280.6" width="15.3" height="13.5" fill="#a8a28c"/>
<rect x="122.5" y="295.3" width="13.1" height="13.5" fill="#948f7e"/>
<rect x="136.6" y="295.3" width="12.2" height="13.5" fill="#8b8575"/>
<rect x="149.9" y="295.3" width="17.4" height="13.5" fill="#9a9583"/>
<rect x="168.3" y="295.3" width="18.4" height="13.5" fill="#a09b89"/>
<rect x="187.7" y="295.3" width="9.8" height="13.5" fill="#858171"/>
<rect x="122.5" y="310.0" width="12.2" height="13.5" fill="#9a9583"/>
<rect x="135.7" y="310.0" width="18.2" height="13.5" fill="#a8a28c"/>
<rect x="155.0" y="310.0" width="12.5" height="13.5" fill="#a8a28c"/>
<rect x="168.4" y="310.0" width="22.9" height="13.5" fill="#a8a28c"/>
<rect x="192.4" y="310.0" width="5.1" height="13.5" fill="#908b7f"/>
<rect x="122.5" y="324.7" width="11.2" height="13.5" fill="#9a9583"/>
<rect x="134.7" y="324.7" width="19.9" height="13.5" fill="#a8a28c"/>
<rect x="155.6" y="324.7" width="20.9" height="13.5" fill="#8b8575"/>
<rect x="177.5" y="324.7" width="17.2" height="13.5" fill="#aaa592"/>
<rect x="195.7" y="324.7" width="1.8" height="13.5" fill="#9a9583"/>
<rect x="122.5" y="339.4" width="15.8" height="13.5" fill="#948f7e"/>
<rect x="139.3" y="339.4" width="20.1" height="13.5" fill="#908b7f"/>
<rect x="160.4" y="339.4" width="22.7" height="13.5" fill="#a09b89"/>
<rect x="184.1" y="339.4" width="13.4" height="13.5" fill="#908b7f"/>
<rect x="122.5" y="354.1" width="15.7" height="13.5" fill="#9a9583"/>
<rect x="139.2" y="354.1" width="20.3" height="13.5" fill="#9a9583"/>
<rect x="160.4" y="354.1" width="18.6" height="13.5" fill="#aaa592"/>
<rect x="180.1" y="354.1" width="17.4" height="13.5" fill="#858171"/>
<rect x="122.5" y="368.8" width="4.8" height="13.5" fill="#a8a28c"/>
<rect x="128.3" y="368.8" width="15.3" height="13.5" fill="#948f7e"/>
<rect x="144.6" y="368.8" width="22.9" height="13.5" fill="#908b7f"/>
<rect x="168.5" y="368.8" width="16.7" height="13.5" fill="#aaa592"/>
<rect x="186.2" y="368.8" width="11.3" height="13.5" fill="#9a9583"/>
<rect x="122.5" y="383.5" width="16.9" height="13.5" fill="#9a9583"/>
<rect x="140.4" y="383.5" width="22.5" height="13.5" fill="#9a9583"/>
<rect x="163.8" y="383.5" width="12.0" height="13.5" fill="#a09b89"/>
<rect x="176.8" y="383.5" width="13.7" height="13.5" fill="#aaa592"/>
<rect x="191.5" y="383.5" width="6.0" height="13.5" fill="#a8a28c"/>
<rect x="122.5" y="398.2" width="14.3" height="13.5" fill="#948f7e"/>
<rect x="137.8" y="398.2" width="16.8" height="13.5" fill="#9a9583"/>
<rect x="155.6" y="398.2" width="20.6" height="13.5" fill="#a09b89"/>
<rect x="177.2" y="398.2" width="20.3" height="13.5" fill="#a09b89"/>
<rect x="122.5" y="412.9" width="9.5" height="13.5" fill="#aaa592"/>
<rect x="133.0" y="412.9" width="16.7" height="13.5" fill="#8b8575"/>
<rect x="150.7" y="412.9" width="16.2" height="13.5" fill="#9a9583"/>
<rect x="167.9" y="412.9" width="12.0" height="13.5" fill="#858171"/>
<rect x="181.0" y="412.9" width="16.5" height="13.5" fill="#a09b89"/>
<rect x="122.5" y="427.6" width="4.3" height="13.5" fill="#8b8575"/>
<rect x="127.8" y="427.6" width="11.3" height="13.5" fill="#a8a28c"/>
<rect x="140.2" y="427.6" width="20.7" height="13.5" fill="#8b8575"/>
<rect x="161.9" y="427.6" width="18.3" height="13.5" fill="#a8a28c"/>
<rect x="181.2" y="427.6" width="16.3" height="13.5" fill="#9a9583"/>
<rect x="122.5" y="442.3" width="15.7" height="13.5" fill="#948f7e"/>
<rect x="139.2" y="442.3" width="11.2" height="13.5" fill="#a09b89"/>
<rect x="151.4" y="442.3" width="17.3" height="13.5" fill="#8b8575"/>
<rect x="169.7" y="442.3" width="16.2" height="13.5" fill="#aaa592"/>
<rect x="186.9" y="442.3" width="10.6" height="13.5" fill="#aaa592"/>
<rect x="122.5" y="457.0" width="13.2" height="13.5" fill="#aaa592"/>
<rect x="136.7" y="457.0" width="20.2" height="13.5" fill="#9a9583"/>
<rect x="157.9" y="457.0" width="14.1" height="13.5" fill="#858171"/>
<rect x="173.0" y="457.0" width="21.0" height="13.5" fill="#948f7e"/>
<rect x="195.0" y="457.0" width="2.5" height="13.5" fill="#9a9583"/>
<rect x="122.5" y="471.7" width="8.2" height="10.7" fill="#858171"/>
<rect x="131.7" y="471.7" width="20.9" height="10.7" fill="#8b8575"/>
<rect x="153.6" y="471.7" width="17.4" height="10.7" fill="#948f7e"/>
<rect x="172.0" y="471.7" width="21.5" height="10.7" fill="#8b8575"/>
<rect x="194.5" y="471.7" width="3.0" height="10.7" fill="#8b8575"/>
<rect x="122" y="133" width="76" height="350" fill="#000" filter="url(#nz)" opacity="0.6"/>
<polygon points="122,475 136,483.5 198,481 198,484 136,486 122,484" fill="#ffffff"/>
<rect x="86" y="144" width="37" height="329" fill="url(#fv2)"/>
<line x1="98.8" y1="150" x2="98.8" y2="468" stroke="#4a3d35" stroke-width="1.2" opacity="0.7"/>
<rect x="86" y="144" width="37" height="3" fill="#3d2c23"/>
<line x1="100.3" y1="150" x2="100.3" y2="468" stroke="#c9b9ac" stroke-width="1"/>
<line x1="121.5" y1="150" x2="121.5" y2="470" stroke="#a89588" stroke-width="0.8" opacity="0.5"/>
<rect x="123" y="148" width="7" height="325" fill="#43342c"/>
<rect x="130" y="148" width="9" height="334" fill="url(#shl)"/>
<rect x="120.6" y="134.5" width="78.9" height="4.5" fill="#3e2a20"/>
<rect x="126.5" y="127.5" width="68.69999999999999" height="7.0" fill="#4d3427"/>
<rect x="134" y="120" width="54" height="8" fill="#3a271e"/>
<rect x="145" y="107.5" width="45" height="17.299999999999997" fill="#2f2019"/>
<rect x="147.0" y="109.0" width="1.5" height="14.3" fill="#5a4336"/>
<rect x="151.1" y="109.0" width="1.5" height="14.3" fill="#5a4336"/>
<rect x="155.2" y="109.0" width="1.5" height="14.3" fill="#5a4336"/>
<rect x="159.3" y="109.0" width="1.5" height="14.3" fill="#5a4336"/>
<rect x="163.4" y="109.0" width="1.5" height="14.3" fill="#5a4336"/>
<rect x="167.5" y="109.0" width="1.5" height="14.3" fill="#5a4336"/>
<rect x="171.6" y="109.0" width="1.5" height="14.3" fill="#5a4336"/>
<rect x="175.7" y="109.0" width="1.5" height="14.3" fill="#5a4336"/>
<rect x="179.8" y="109.0" width="1.5" height="14.3" fill="#5a4336"/>
<rect x="183.9" y="109.0" width="1.5" height="14.3" fill="#5a4336"/>
<polygon points="111.4,118.3 146,108.5 146,123 128.7,121.7" fill="#2a1c15"/>
<polygon points="209.2,114 189,109.0 189,124 199.1,119.5" fill="#2a1c15"/>
<polygon points="111.4,118.3 159.8,95.2 209.2,114 189,109.0 146,108.5" fill="url(#roof)"/>
<polygon points="111.4,118.3 146,106.5 189,107.0 209.2,114 189,109.0 146,108.5" fill="#2e1f17" opacity="0.5"/>
<ellipse cx="160" cy="87.3" rx="3.4" ry="7.6" fill="#c2a24a"/>
<ellipse cx="159.4" cy="85.1" rx="1.2" ry="3.1" fill="#e6cf7c"/>
<rect x="179" y="148" width="15" height="332" fill="url(#fv3)"/>
<rect x="179" y="148" width="2.5" height="332" fill="#3b2c25"/>
<rect x="183" y="157" width="22" height="12" fill="#e4e2e0" stroke="#b0aeac" stroke-width="0.8"/>
<line x1="190" y1="158" x2="190" y2="168" stroke="#9a9896"/><line x1="196" y1="158" x2="196" y2="168" stroke="#9a9896"/>
<rect x="183" y="418" width="8" height="28" fill="#9aa0aa"/>
<path d="M181,412.5 L190,413 L190,440" fill="none" stroke="#dcdcdc" stroke-width="1.5"/>
<rect x="191" y="433" width="14" height="14" fill="#dedcda" stroke="#a8a6a4" stroke-width="0.8"/>
<line x1="195" y1="434" x2="195" y2="446" stroke="#a0a0a0" stroke-width="0.8"/><line x1="200" y1="434" x2="200" y2="446" stroke="#a0a0a0" stroke-width="0.8"/>
<polygon points="565,421 612,418 612,437 565,437" fill="#8a8580"/>
<polygon points="565,421 612,418 612,421 565,424" fill="#6a6560"/>
<line x1="614" y1="436" x2="614" y2="588" stroke="#a4a4a6" stroke-width="1.6"/>
<line x1="638" y1="436" x2="638" y2="586" stroke="#a4a4a6" stroke-width="1.6"/>
<line x1="732" y1="436" x2="732" y2="570" stroke="#a4a4a6" stroke-width="1.6"/>
<rect x="626" y="436" width="7.5" height="111" fill="#a6a6a8"/>
<rect x="626" y="436" width="2.5" height="111" fill="#8a8a8c"/>
<rect x="630.5" y="436" width="1.5" height="111" fill="#c4c4c6"/>
<line x1="604" y1="454.5" x2="650" y2="452.5" stroke="#9c9c9e" stroke-width="1.4"/>
<line x1="606" y1="457.5" x2="650" y2="455.5" stroke="#b4b4b6" stroke-width="1.2"/>
<line x1="604" y1="488" x2="650" y2="486" stroke="#9c9c9e" stroke-width="1.4"/>
<line x1="606" y1="491" x2="650" y2="489" stroke="#b4b4b6" stroke-width="1.2"/>
<line x1="604" y1="530" x2="650" y2="528" stroke="#9c9c9e" stroke-width="1.4"/>
<line x1="606" y1="533" x2="650" y2="531" stroke="#b4b4b6" stroke-width="1.2"/>
<line x1="604" y1="581" x2="650" y2="579" stroke="#9c9c9e" stroke-width="1.4"/>
<line x1="606" y1="584" x2="650" y2="582" stroke="#b4b4b6" stroke-width="1.2"/>
<line x1="712" y1="444.7" x2="744" y2="442.7" stroke="#9c9c9e" stroke-width="1.4"/>
<line x1="712" y1="447.7" x2="744" y2="445.7" stroke="#b4b4b6" stroke-width="1.2"/>
<line x1="712" y1="476" x2="744" y2="474" stroke="#9c9c9e" stroke-width="1.4"/>
<line x1="712" y1="479" x2="744" y2="477" stroke="#b4b4b6" stroke-width="1.2"/>
<line x1="712" y1="517" x2="744" y2="515" stroke="#9c9c9e" stroke-width="1.4"/>
<line x1="712" y1="520" x2="744" y2="518" stroke="#b4b4b6" stroke-width="1.2"/>
<line x1="712" y1="565" x2="744" y2="563" stroke="#9c9c9e" stroke-width="1.4"/>
<line x1="712" y1="568" x2="744" y2="566" stroke="#b4b4b6" stroke-width="1.2"/>
<line x1="604" y1="449" x2="744" y2="437" stroke="#a8a8aa" stroke-width="1.4"/>
<line x1="640" y1="440" x2="640" y2="458" stroke="#a8a8aa" stroke-width="1.4"/>
<line x1="668" y1="438" x2="668" y2="456" stroke="#a8a8aa" stroke-width="1.4"/>
<line x1="690" y1="436" x2="690" y2="455" stroke="#a8a8aa" stroke-width="1.4"/>
<line x1="704" y1="435" x2="704" y2="455" stroke="#a8a8aa" stroke-width="1.4"/>
<rect x="612" y="465" width="26" height="5" fill="#d6d6d8"/>
<rect x="717" y="453" width="22" height="5" fill="#d6d6d8"/>
<polygon points="667,458 715,456 715,583 667,584.5" fill="#8e8984"/>
<polygon points="647.8,461.8 667,458 667,584.5 647.8,582" fill="#76716c"/>
<polygon points="647.8,461.8 667,458 715,456 700,454.5 652,458" fill="#66615d"/>
<rect x="667" y="458" width="48" height="127" fill="#000" filter="url(#nz)" opacity="0.15"/>
<line x1="605.6" y1="433" x2="605.6" y2="590" stroke="#b8b8ba" stroke-width="1.6"/>
<line x1="647.8" y1="433" x2="647.8" y2="588" stroke="#b8b8ba" stroke-width="1.6"/>
<line x1="715.5" y1="433" x2="715.5" y2="584" stroke="#b8b8ba" stroke-width="1.6"/>
<line x1="740.5" y1="433" x2="740.5" y2="572" stroke="#b8b8ba" stroke-width="1.6"/>
<polygon points="604,432 744,420 744,427 604,439" fill="#c2c2c4"/>
<polygon points="604,439 744,427 744,429.5 604,441.5" fill="#8e8e90"/>
<polygon points="612,428 742,417 742,421 612,432" fill="#7a7876"/>
<rect x="625" y="422.9" width="6" height="6" fill="#8a8886"/>
<rect x="640" y="421.6" width="6" height="6" fill="#8a8886"/>
<rect x="655" y="420.3" width="6" height="6" fill="#8a8886"/>
<rect x="680" y="418.2" width="6" height="6" fill="#8a8886"/>
<rect x="700" y="416.5" width="6" height="6" fill="#8a8886"/>
<rect x="720" y="414.8" width="6" height="6" fill="#8a8886"/>
<rect x="735" y="413.5" width="6" height="6" fill="#8a8886"/>
<rect x="622" y="376" width="28" height="46" fill="#2a2624" filter="url(#blur2)" opacity="0.9"/>
<polygon points="644,407 677,406 680,422 629,423" fill="#2e2b29"/>
<rect x="647" y="379" width="29" height="28" fill="#c9c9cb"/>
<rect x="647" y="379" width="7" height="28" fill="#a9a9ab"/>
<rect x="647" y="379" width="29" height="2.5" fill="#e0e0e2"/>
<rect x="647" y="402" width="29" height="5" fill="#b4b4b6"/>
<g id="p1">
<polygon points="384,602.5 582.7,493 582.7,499 388.7,606" fill="#bcbcc0"/>
<polygon points="388.7,606 582.7,498.7 582.7,511.2 404.7,616" fill="url(#beamC)"/>
<polygon points="404.7,616 582.7,511.2 582.7,517.5 410,622.5" fill="#e4e4e6"/>
<polygon points="410,622.5 582.7,517.5 582.7,540 418.4,655" fill="url(#beamF)"/>
<polygon points="412,628 582.7,523 582.7,525 412,631" fill="#d4d4d7" opacity="0.7"/>
<path d="M384,603 Q384,601 387,601.5 L404.7,616 L410,622.5 Q413,640 418.4,655 L392,655 Q384,654 384,646 Z" fill="#a6a6aa"/>
<path d="M384,603 Q384,601 387,601.5 L391,604.5 L388,648 Q386,652 384,646 Z" fill="#bdbdc1"/>
<polygon points="384,603 388.7,601.8 393,606 387,608.5" fill="#dadade"/>
<path d="M410,622.5 Q412.5,640 418.4,655" fill="none" stroke="#e8e8ea" stroke-width="1.3"/>
<polygon points="391,640 410,636 414,652 394,654" fill="#b4b4b8" opacity="0.6"/>
</g>
<g id="p2">
<polygon points="799,573 907,514 963,553 846,606" fill="#d3d3d7"/>
<polygon points="799,573 846,606 849,619 800,587" fill="#dedee1"/>
<polygon points="846,606 963,553 963,563.5 862,621 849,619" fill="#d6d6d9"/>
<polygon points="846,606 963,553 963,555 847,608.5" fill="#ececee"/>
<polygon points="820,585 870,560 900,575 850,600" fill="#bdbdc1" opacity="0.6"/>
<ellipse cx="812" cy="576" rx="4" ry="2.5" fill="#8e8e92"/><ellipse cx="812.5" cy="576.5" rx="2.5" ry="1.5" fill="#e6e6e8"/>
<ellipse cx="947" cy="551" rx="4" ry="2.5" fill="#8e8e92"/><ellipse cx="947.5" cy="551.5" rx="2.5" ry="1.5" fill="#e6e6e8"/>
<ellipse cx="853" cy="601" rx="4" ry="2.5" fill="#8e8e92"/><ellipse cx="853.5" cy="601.5" rx="2.5" ry="1.5" fill="#e6e6e8"/>
<polygon points="858,505 908,498 922,510 922,566 905,578 868,590 849,582 847,545" fill="#c2c2c6"/>
<polygon points="847,545 863,550 867,590 849,582" fill="#9a9a9e"/>
<polygon points="863,550 921,532 921,566 867,590" fill="#d2d2d6"/>
<polygon points="863,550 921,532 921,536 864,554" fill="#e8e8ea"/>
<polygon points="862,512 908,505 915,520 870,535" fill="#b0b0b4"/>
<circle cx="891.5" cy="556" r="6.5" fill="#e4e4e6" stroke="#9a9a9e" stroke-width="1"/>
<circle cx="890" cy="554.5" r="3" fill="#f6f6f8"/>
<ellipse cx="883.4" cy="503" rx="24" ry="13" fill="#a7a7ab"/>
<ellipse cx="883.4" cy="498.6" rx="24" ry="13" fill="url(#wheel)"/>
<ellipse cx="883.4" cy="498.6" rx="8" ry="4.5" fill="#c0c0c4" stroke="#8a8a8e" stroke-width="0.8"/>
<ellipse cx="883.4" cy="498.6" rx="2.5" ry="1.5" fill="#444"/>
<g transform="translate(912,481) rotate(-8)"><ellipse cx="-6" cy="0" rx="16" ry="20.5" fill="#bcbcc0"/><ellipse cx="-4.2" cy="0" rx="9.6" ry="12.3" fill="#5e5e62"/><rect x="-6" y="-20.5" width="6" height="41.0" fill="#c8c8cc"/><ellipse cx="0" cy="0" rx="16" ry="20.5" fill="url(#wheel)" stroke="#a8a8ac" stroke-width="0.8"/><ellipse cx="0.5" cy="0.5" rx="10.6" ry="13.5" fill="#b4b4b8"/><ellipse cx="0.8" cy="0.8" rx="9.0" ry="11.5" fill="#dadade"/><ellipse cx="1" cy="1" rx="5.8" ry="7.4" fill="#9a9a9e"/><ellipse cx="1" cy="1" rx="4.2" ry="5.3" fill="#e6e6e8"/><ellipse cx="1.2" cy="1.2" rx="1.6" ry="2.1" fill="#5a5a5e"/></g>
<polygon points="905,486 935,494 932,514 903,504" fill="#a5a5a9"/>
<g transform="translate(937,495) rotate(-8)"><ellipse cx="-6" cy="0" rx="18" ry="21.5" fill="#bcbcc0"/><ellipse cx="-4.2" cy="0" rx="10.8" ry="12.9" fill="#5e5e62"/><rect x="-6" y="-21.5" width="6" height="43.0" fill="#c8c8cc"/><ellipse cx="0" cy="0" rx="18" ry="21.5" fill="url(#wheel)" stroke="#a8a8ac" stroke-width="0.8"/><ellipse cx="0.5" cy="0.5" rx="11.9" ry="14.2" fill="#b4b4b8"/><ellipse cx="0.8" cy="0.8" rx="10.1" ry="12.0" fill="#dadade"/><ellipse cx="1" cy="1" rx="6.5" ry="7.7" fill="#9a9a9e"/><ellipse cx="1" cy="1" rx="4.7" ry="5.6" fill="#e6e6e8"/><ellipse cx="1.2" cy="1.2" rx="1.8" ry="2.1" fill="#5a5a5e"/></g>
<g transform="translate(828,522) rotate(-8)"><ellipse cx="-6" cy="0" rx="16" ry="22" fill="#bcbcc0"/><ellipse cx="-4.2" cy="0" rx="9.6" ry="13.2" fill="#5e5e62"/><rect x="-6" y="-22" width="6" height="44" fill="#c8c8cc"/><ellipse cx="0" cy="0" rx="16" ry="22" fill="url(#wheel)" stroke="#a8a8ac" stroke-width="0.8"/><ellipse cx="0.5" cy="0.5" rx="10.6" ry="14.5" fill="#b4b4b8"/><ellipse cx="0.8" cy="0.8" rx="9.0" ry="12.3" fill="#dadade"/><ellipse cx="1" cy="1" rx="5.8" ry="7.9" fill="#9a9a9e"/><ellipse cx="1" cy="1" rx="4.2" ry="5.7" fill="#e6e6e8"/><ellipse cx="1.2" cy="1.2" rx="1.6" ry="2.2" fill="#5a5a5e"/></g>
<polygon points="829,519 852,531 850,556 829,545" fill="#8e8e92"/>
<g transform="translate(852,538) rotate(-8)"><ellipse cx="-6" cy="0" rx="18.5" ry="21.5" fill="#bcbcc0"/><ellipse cx="-4.2" cy="0" rx="11.1" ry="12.9" fill="#5e5e62"/><rect x="-6" y="-21.5" width="6" height="43.0" fill="#c8c8cc"/><ellipse cx="0" cy="0" rx="18.5" ry="21.5" fill="url(#wheel)" stroke="#a8a8ac" stroke-width="0.8"/><ellipse cx="0.5" cy="0.5" rx="12.2" ry="14.2" fill="#b4b4b8"/><ellipse cx="0.8" cy="0.8" rx="10.4" ry="12.0" fill="#dadade"/><ellipse cx="1" cy="1" rx="6.7" ry="7.7" fill="#9a9a9e"/><ellipse cx="1" cy="1" rx="4.8" ry="5.6" fill="#e6e6e8"/><ellipse cx="1.2" cy="1.2" rx="1.9" ry="2.1" fill="#5a5a5e"/></g>
</g>
<g id="p3">
<polygon points="96.3,572 106.1,575.6 136.3,588 136.3,664.4 127.4,678.6 96.3,650" fill="#cdcdd1"/>
<polygon points="102.5,574 106.5,575.6 106.5,620 102.5,618" fill="#8e8e92"/>
<polygon points="106.5,575.6 136.3,588 136.3,600 106.5,590" fill="#dcdcdf"/>
<polygon points="136.3,588 150.5,584.5 150.5,669.7 136.3,673 127.4,678.6 136.3,664.4" fill="#dedee1"/>
<line x1="136.5" y1="588" x2="136.5" y2="672" stroke="#a8a8ac" stroke-width="0.8"/>
<circle cx="141" cy="591" r="0.9" fill="#7a7a7e"/>
<circle cx="146" cy="588" r="0.9" fill="#7a7a7e"/>
<circle cx="143" cy="633" r="0.9" fill="#7a7a7e"/>
<circle cx="146" cy="631" r="0.9" fill="#7a7a7e"/>
<circle cx="140" cy="667" r="0.9" fill="#7a7a7e"/>
<circle cx="144" cy="664" r="0.9" fill="#7a7a7e"/>
<polygon points="97,616 133,630 133,672 122,674 122,628 97,621" fill="#77777b"/>
<polygon points="80.4,576.5 93.7,572.1 97.2,575 97.2,580 84,582" fill="#c0c0c4"/>
<polygon points="81,610 95,607 99,612 86,615" fill="#b8b8bc"/>
<path d="M85.7,581.0 Q91,579.0 95.5,582.0" fill="none" stroke="#8a8a8e" stroke-width="1.3"/>
<path d="M85.7,584.8 Q91,582.8 95.5,585.8" fill="none" stroke="#8a8a8e" stroke-width="1.3"/>
<path d="M85.7,588.6 Q91,586.6 95.5,589.6" fill="none" stroke="#8a8a8e" stroke-width="1.3"/>
<path d="M85.7,592.4 Q91,590.4 95.5,593.4" fill="none" stroke="#8a8a8e" stroke-width="1.3"/>
<path d="M85.7,596.2 Q91,594.2 95.5,597.2" fill="none" stroke="#8a8a8e" stroke-width="1.3"/>
<path d="M85.7,600.0 Q91,598.0 95.5,601.0" fill="none" stroke="#8a8a8e" stroke-width="1.3"/>
<path d="M85.7,603.8 Q91,601.8 95.5,604.8" fill="none" stroke="#8a8a8e" stroke-width="1.3"/>
<path d="M85.7,607.6 Q91,605.6 95.5,608.6" fill="none" stroke="#8a8a8e" stroke-width="1.3"/>
<path d="M85.7,611.4 Q91,609.4 95.5,612.4" fill="none" stroke="#8a8a8e" stroke-width="1.3"/>
<path d="M68.5,539 L89,533 L90.5,640" fill="none" stroke="#c4c4c8" stroke-width="2.8" stroke-linejoin="round"/>
<path d="M68.5,539 L89,533 L90.5,640" fill="none" stroke="#eeeef0" stroke-width="0.9"/>
<circle cx="99.5" cy="593" r="2.2" fill="#a0a0a4"/><circle cx="99.5" cy="606" r="2.2" fill="#a0a0a4"/>
<path d="M49.5,549.5 Q46.5,541 54,537.5 Q61,534.5 66,537 L70,539 L67,542 Q63,548 56,551 Q51,552.5 49.5,549.5 Z" fill="url(#rub)"/>
<circle cx="55" cy="544" r="1.2" fill="#ddd"/>
<polygon points="47.5,628.9 70.6,624.4 91,618.2 91,657.3 70.6,664.4 47.5,671.5" fill="#d6d6d9"/>
<polygon points="47.5,628.9 56,627.2 56,669 47.5,671.5" fill="#ececee"/>
<polygon points="70.6,624.4 91,618.2 91,657.3 70.6,664.4" fill="#a8a8ac"/>
<polygon points="47.5,671.5 70.6,664.4 91,657.3 91,660.8 95.5,701.6 84.8,699.8 54.6,680.3" fill="#d2d2d5"/>
<polygon points="70.6,664.4 91,657.3 91,680 75,672" fill="#bcbcc0"/>
<polygon points="91,618.2 123,630.6 123,689.2 95.5,701.6" fill="#d8d8dc"/>
<polygon points="91,618.2 95,617.5 123,627 123,630.6" fill="#eeeef0"/>
<polygon points="91,618.2 94,618.4 97.5,700.8 95.5,701.6" fill="#f2f2f4"/>
<polygon points="100,655 123,645 123,650 100,660" fill="#c6c6ca"/>
<circle cx="99.9" cy="637.7" r="2.5" fill="#a8a8ac"/>
</g>
<g id="p4">
<polygon points="264.3,545.3 265.2,542.7 268,542.2 318.4,571 322.9,577.2 322.9,639.3 318.4,646.4 302.5,642.9 264.3,598.5" fill="url(#metV)"/>
<polygon points="264.3,545.3 265.2,542.7 268,542.2 268.5,600 264.3,598.5" fill="#eeeef0"/>
<path d="M292,596 Q305,588 322.9,596 L322.9,639.3 L318.4,646.4 L302.5,642.9 L292,625 Z" fill="#b8b8bc"/>
<path d="M306,593 Q315,590 322.9,596 L322.9,639.3 L318.4,646.4 L310,644 Z" fill="#d0d0d4"/>
<ellipse cx="273.2" cy="556" rx="5.5" ry="5.8" fill="#dadadd" stroke="#98989c" stroke-width="0.8"/><ellipse cx="272.2" cy="557" rx="3" ry="3.4" fill="#7a7a7e"/>
<ellipse cx="314.9" cy="579.9" rx="5.5" ry="5.8" fill="#dadadd" stroke="#98989c" stroke-width="0.8"/><ellipse cx="313.9" cy="580.9" rx="3" ry="3.4" fill="#7a7a7e"/>
<polygon points="215.5,650 249.2,611 266,598.5 292,596 292,616 255,640 219,657" fill="#a4a4a8"/>
<polygon points="215.5,650 249.2,611 253,612 222,652" fill="#d8d8dc"/>
<ellipse cx="266" cy="626" rx="22" ry="24" fill="#8c8c90"/>
<ellipse cx="271" cy="624" rx="21" ry="23" fill="url(#wheel)"/>
<ellipse cx="279" cy="624" rx="11" ry="16" fill="#a2a2a6"/>
<polygon points="215.5,652 219,657 292,614.5 322,603.9 322,614.5 238.6,671.3 219.1,664.2" fill="#cfcfd3"/>
<polygon points="219,657 292,614.5 322,603.9 322,607 292,618 222,660" fill="#e8e8ea"/>
<circle cx="283.8" cy="638.4" r="6.5" fill="#e2e2e4" stroke="#9a9a9e" stroke-width="1"/>
<circle cx="282.5" cy="637" r="3" fill="#f4f4f6"/>
<circle cx="231.5" cy="660.6" r="4" fill="#d8d8da" stroke="#8a8a8e" stroke-width="1"/>
<circle cx="245.7" cy="651.7" r="4" fill="#d8d8da" stroke="#8a8a8e" stroke-width="1"/>
</g>
<g id="p5">
<polygon points="866.6,26.3 877.9,27.7 920.5,51.1 926.2,54.6 929.7,61.7 929.7,102.9 923.3,112.8 914.8,114.2 865.2,131.3 842.5,129.9 826.8,107.2 826.8,105.7 866.6,54.6 862.3,45.4 859.5,36.2 862,29" fill="#c8c8cc"/>
<polygon points="866.6,26.3 877.9,27.7 920.5,51.1 926.2,54.6 914.8,70.3 873.7,56.1 866.6,54.6 862.3,45.4 859.5,36.2 862,29" fill="#d4d4d8"/>
<polygon points="869.4,56.1 914.8,70.3 909.2,75.9 877.9,85.9" fill="#a2a2a6"/>
<polygon points="829.7,105.7 869.4,56.1 875,57 877.9,85.9 834,106" fill="url(#metD)"/>
<polygon points="826.8,105.7 866.6,54.6 869.4,56.1 829.7,107" fill="#e6e6e8"/>
<polygon points="830,107 877.9,85.9 897.8,90.1 863.7,119.9 845,124" fill="#c0c0c4"/>
<polygon points="877.9,85.9 914.8,70.3 914.8,107.2 865.2,131.3 859.5,121.3" fill="#d2d2d6"/>
<polygon points="877.9,85.9 914.8,70.3 914.8,74 880,89" fill="#ececee"/>
<polygon points="914.8,70.3 929.7,61.7 929.7,102.9 923.3,112.8 914.8,107.2" fill="#bcbcc0"/>
<line x1="921" y1="68" x2="921" y2="108" stroke="#d8d8dc" stroke-width="1"/>
<ellipse cx="866.6" cy="37.6" rx="6.5" ry="7.5" fill="#dcdcdf" stroke="#a0a0a4" stroke-width="0.8"/>
<ellipse cx="865.4" cy="39" rx="3.6" ry="4.6" fill="#6a6a6e"/>
<ellipse cx="912" cy="63.2" rx="6.5" ry="7.5" fill="#dcdcdf" stroke="#a0a0a4" stroke-width="0.8"/>
<ellipse cx="910.8" cy="64.6" rx="3.6" ry="4.6" fill="#6a6a6e"/>
<ellipse cx="874.4" cy="102.2" rx="5.5" ry="5" fill="#e4e4e6" stroke="#85858a" stroke-width="1"/>
<ellipse cx="874.4" cy="100.8" rx="2.5" ry="2" fill="#f4f4f6"/>
<ellipse cx="852.4" cy="111.4" rx="5.5" ry="5" fill="#e4e4e6" stroke="#85858a" stroke-width="1"/>
<ellipse cx="852.4" cy="110" rx="2.5" ry="2" fill="#f4f4f6"/>
<ellipse cx="851" cy="124.2" rx="5" ry="3.5" fill="#b4b4b8" stroke="#85858a" stroke-width="0.8"/>
</g>
<g id="p6">
<polygon points="404,35.4 452,31.5 501,28.5 540.3,27.8 543,33.5 505.5,39.2 422,45.3 401,39.2" fill="#c6c6ca"/>
<polygon points="460,33 478,31.8 478,33 460,34.2" fill="#8a8a8e"/>
<polygon points="475,36 495,35 495,36.2 475,37.2" fill="#8a8a8e"/>
<polygon points="422,45.3 505.5,39.2 543,33.5 543,35.5 505.5,41.5 424,47.5" fill="#7c7c80"/>
<path d="M401,39.2 Q402,35 406,35.4 L422,45.3 L423.8,114.9 L402.6,99.8 Z" fill="url(#metH)"/>
<polygon points="424,112.5 454,110 453,106 425,108" fill="#cfcfd3"/>
<rect x="424.5" y="96" width="9" height="16" fill="#d4d4d8"/>
<path d="M421.5,45 Q424.5,46.5 424.2,50 L425,113.5 L454.5,111" fill="none" stroke="#76767a" stroke-width="2.4"/>
<polygon points="506.3,35.4 542.6,34.7 540.3,69.5 507,59" fill="#d2d2d6"/>
<polygon points="540,34.7 543,33.5 543,70 540.3,69.5" fill="#8a8a8e"/>
<circle cx="530" cy="41" r="1.2" fill="#555"/>
<circle cx="532" cy="60" r="1.2" fill="#555"/>
<circle cx="513" cy="52" r="1.2" fill="#555"/>
<circle cx="526" cy="36" r="1.2" fill="#555"/>
<rect x="483.6" y="22.6" width="8.3" height="6" fill="#a8a8ac"/>
<rect x="500" y="25" width="6" height="5" fill="#a8a8ac"/>
<rect x="501" y="40" width="6" height="6" fill="#9a9a9e"/>
<rect x="424.5" y="71" width="11.4" height="25.7" rx="5" ry="6" fill="url(#rub)"/>
<ellipse cx="430.2" cy="72" rx="5.7" ry="2" fill="#8a8a8a"/>
<rect x="432.8" y="80.8" width="19.7" height="29.6" rx="8" ry="6" fill="url(#rub)"/>
<ellipse cx="442.6" cy="82" rx="9.8" ry="2.6" fill="#b8b8b8"/>
<rect x="440.4" y="110" width="6.1" height="13.2" fill="#c4c4c8"/>
<rect x="441" y="112" width="2" height="11" fill="#e8e8ea"/>
</g>
<line x1="480" y1="63.5" x2="708.5" y2="180" stroke="#a8a8a8" stroke-width="3.2" stroke-linecap="round"/>
<line x1="824" y1="117.5" x2="746.6" y2="378.8" stroke="#a8a8a8" stroke-width="3.2" stroke-linecap="round"/>
<line x1="237.3" y1="470.2" x2="299.4" y2="553.6" stroke="#a8a8a8" stroke-width="3.2" stroke-linecap="round"/>
<line x1="192" y1="468" x2="124" y2="581.5" stroke="#a8a8a8" stroke-width="3.2" stroke-linecap="round"/>
<line x1="404" y1="446" x2="491" y2="528" stroke="#a8a8a8" stroke-width="3.2" stroke-linecap="round"/>
<line x1="616" y1="448" x2="796" y2="561" stroke="#a8a8a8" stroke-width="3.2" stroke-linecap="round"/>
<circle cx="405.9" cy="13.4" r="8.5" fill="url(#orng)"/>
<text x="405.9" y="17.2" font-size="10.6" font-weight="bold" fill="#fff6e0" text-anchor="middle" font-family="Liberation Sans, sans-serif">6</text>
<circle cx="822.3" cy="28" r="7.5" fill="url(#orng)"/>
<text x="822.3" y="31.4" font-size="9.4" font-weight="bold" fill="#fff6e0" text-anchor="middle" font-family="Liberation Sans, sans-serif">5</text>
<circle cx="720" cy="192" r="9.5" fill="url(#orng)"/>
<text x="720" y="196.3" font-size="11.9" font-weight="bold" fill="#fff6e0" text-anchor="middle" font-family="Liberation Sans, sans-serif">6</text>
<circle cx="734" cy="401.2" r="10" fill="url(#orng)"/>
<text x="734" y="405.7" font-size="12.5" font-weight="bold" fill="#fff6e0" text-anchor="middle" font-family="Liberation Sans, sans-serif">5</text>
<circle cx="610" cy="424" r="9.7" fill="url(#orng)"/>
<text x="610" y="428.4" font-size="12.1" font-weight="bold" fill="#fff6e0" text-anchor="middle" font-family="Liberation Sans, sans-serif">2</text>
<circle cx="313.7" cy="426" r="10" fill="url(#orng)"/>
<text x="313.7" y="430.5" font-size="12.5" font-weight="bold" fill="#fff6e0" text-anchor="middle" font-family="Liberation Sans, sans-serif">1</text>
<circle cx="234" cy="446" r="10" fill="url(#orng)"/>
<text x="234" y="450.5" font-size="12.5" font-weight="bold" fill="#fff6e0" text-anchor="middle" font-family="Liberation Sans, sans-serif">4</text>
<circle cx="177.9" cy="446.7" r="10.3" fill="url(#orng)"/>
<text x="177.9" y="451.3" font-size="12.9" font-weight="bold" fill="#fff6e0" text-anchor="middle" font-family="Liberation Sans, sans-serif">3</text>
<circle cx="788.5" cy="474" r="9" fill="url(#orng)"/>
<text x="788.5" y="478.1" font-size="11.2" font-weight="bold" fill="#fff6e0" text-anchor="middle" font-family="Liberation Sans, sans-serif">2</text>
<circle cx="403" cy="500" r="9" fill="url(#orng)"/>
<text x="403" y="504.1" font-size="11.2" font-weight="bold" fill="#fff6e0" text-anchor="middle" font-family="Liberation Sans, sans-serif">1</text>
<circle cx="22.3" cy="542.3" r="10" fill="url(#orng)"/>
<text x="22.3" y="546.8" font-size="12.5" font-weight="bold" fill="#fff6e0" text-anchor="middle" font-family="Liberation Sans, sans-serif">3</text>
<circle cx="218.5" cy="554.3" r="7" fill="url(#orng)"/>
<text x="218.5" y="557.4" font-size="8.8" font-weight="bold" fill="#fff6e0" text-anchor="middle" font-family="Liberation Sans, sans-serif">4</text></svg>

<div class="t" style="left:401.5px;top:145.8px;font-size:12px;">Направляющее устройство</div>
<div class="t" style="left:828.8px;top:147px;font-size:11.2px;">Крышка задняя</div>
<div class="t" style="left:47px;top:714px;font-size:13.4px;letter-spacing:0.14px;">Ловитель нижний</div>
<div class="t" style="left:224.5px;top:689px;font-size:9.8px;">Крышка передняя с под-</div><div class="t" style="left:225.5px;top:701.2px;font-size:9.95px;letter-spacing:0.1px;">держивающим роликом</div>
<div class="p" style="left:379px;top:667.4px;width:220px;letter-spacing:0.16px;"><span style="padding-left:16px"></span>Несущие балки производятся<br>из горячекатаной стали на про-<br>катном стане нового поколения.<br>Именно поэтому отличительная<br>особенность ворот DoorHan —<br>плавный и мягкий ход полотна</div>
<div class="p" style="left:785px;top:640px;width:220px;line-height:15.5px;letter-spacing:0.1px;"><span style="padding-left:16px"></span>Регулируемые по высоте<br>роликовые опоры позволяют<br>быстро уменьшить или увели-<br>чить просвет под полотном, не<br>разбирая ворота и не снимая<br>электропривод</div>

</div></body></html>
